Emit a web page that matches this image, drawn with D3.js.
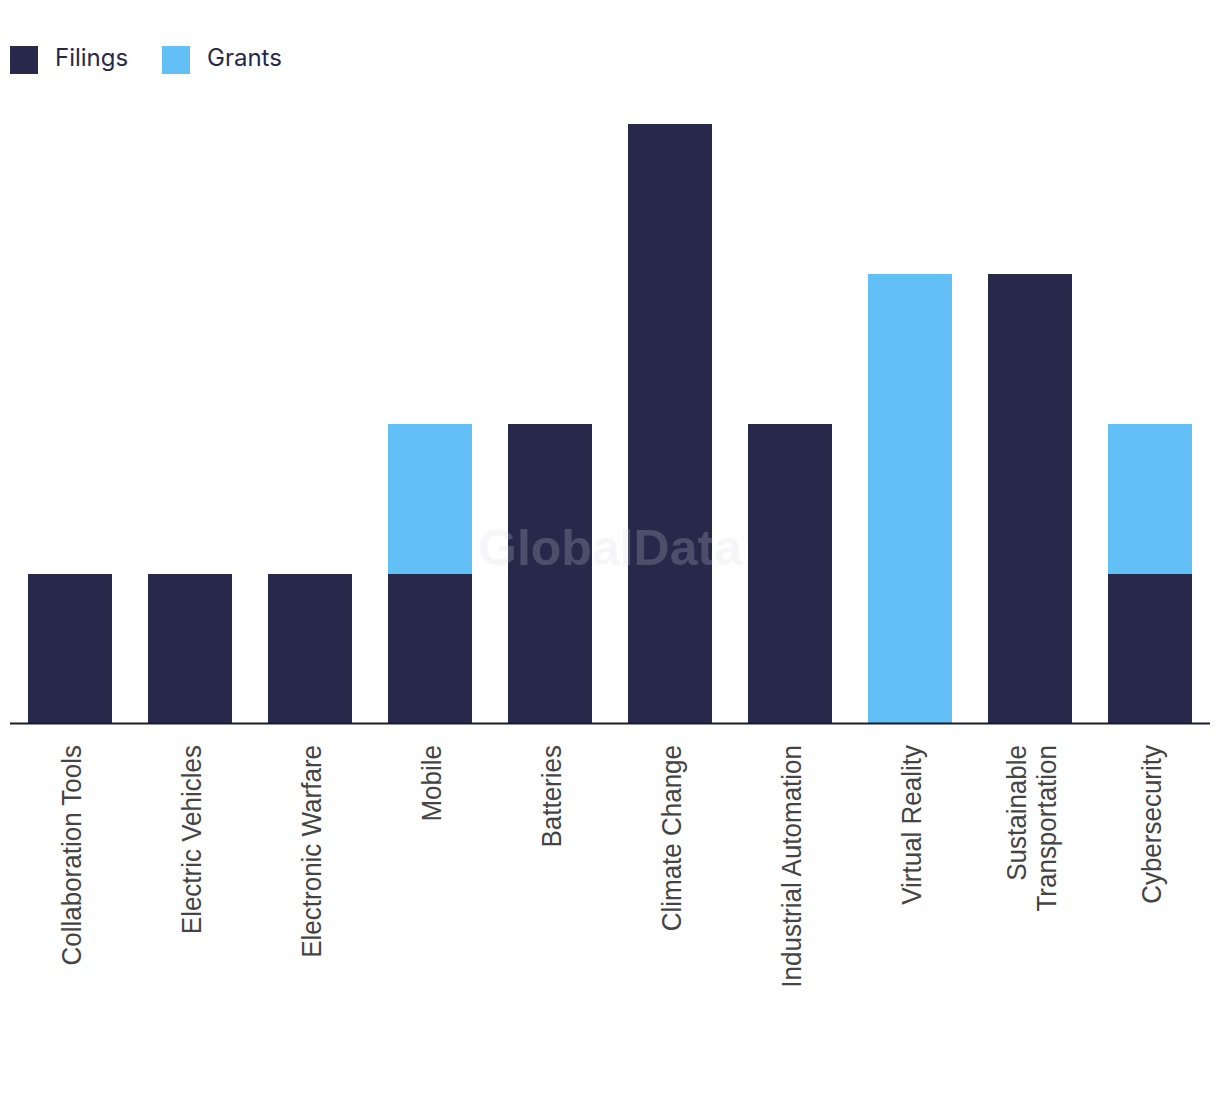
<!DOCTYPE html>
<html><head><meta charset="utf-8">
<script src="https://cdn.jsdelivr.net/npm/d3@7"></script>
<style>body{margin:0;background:#fff;} svg{display:block;}</style>
</head><body>
<svg id="chart" width="1220" height="1094"></svg>
<script>
const categories = ["Collaboration Tools","Electric Vehicles","Electronic Warfare","Mobile","Batteries","Climate Change","Industrial Automation","Virtual Reality","Sustainable Transportation","Cybersecurity"];
const labelLines = [["Collaboration Tools"],["Electric Vehicles"],["Electronic Warfare"],["Mobile"],["Batteries"],["Climate Change"],["Industrial Automation"],["Virtual Reality"],["Sustainable","Transportation"],["Cybersecurity"]];
const filings = [1,1,1,1,2,4,2,0,3,1];
const grants  = [0,0,0,1,0,0,0,3,0,1];
const seriesNames = ["Filings","Grants"];
const colors = ["#27284a","#62c0f7"];

const svg = d3.select("#chart");
const x = d3.scaleBand().domain(categories).range([10,1210]).paddingInner(0.3).paddingOuter(0.15);
const y = d3.scaleLinear().domain([0,4]).range([724,124]);

const rows = categories.map((c,i)=>({cat:c, Filings:filings[i], Grants:grants[i]}));
const stack = d3.stack().keys(seriesNames)(rows);

svg.append("g").selectAll("g").data(stack).join("g")
  .attr("fill",(d,i)=>colors[i])
  .selectAll("rect").data(d=>d).join("rect")
  .attr("x",d=>x(d.data.cat))
  .attr("width",x.bandwidth())
  .attr("y",d=>y(d[1]))
  .attr("height",d=>y(d[0])-y(d[1]));

// axis line
svg.append("line").attr("x1",10).attr("x2",1210).attr("y1",723.5).attr("y2",723.5)
  .attr("stroke","#1b1b2f").attr("stroke-width",2);

// labels
const lg = svg.append("g").attr("font-family","Liberation Sans, Arial, sans-serif").attr("font-size",27.5).attr("fill","#444");
categories.forEach((c,i)=>{
  const lines = labelLines[i];
  const cx = x(c)+x.bandwidth()/2;
  lines.forEach((t,j)=>{
    const off = (j-(lines.length-1)/2)*30;
    lg.append("text")
      .attr("transform",`translate(${cx+off+11},745) rotate(-90) scale(0.945,1)`)
      .attr("text-anchor","end")
      .text(t);
  });
});

// legend
const leg = svg.append("g").attr("font-family","Inter, Liberation Sans, sans-serif").attr("font-size",24).attr("fill","#27284a");
const legX = [10,162];
seriesNames.forEach((s,i)=>{
  leg.append("rect").attr("x",legX[i]).attr("y",46).attr("width",28).attr("height",28).attr("fill",colors[i]);
  leg.append("text").attr("x",legX[i]+45).attr("y",66).text(s);
});

// watermark
svg.append("text").attr("x",610).attr("y",565).attr("text-anchor","middle")
  .attr("font-family","Liberation Sans, Arial, sans-serif").attr("font-weight","bold").attr("font-size",50)
  .attr("fill","#d8d8e0").attr("fill-opacity",0.22).text("GlobalData");
</script>
</body></html>
